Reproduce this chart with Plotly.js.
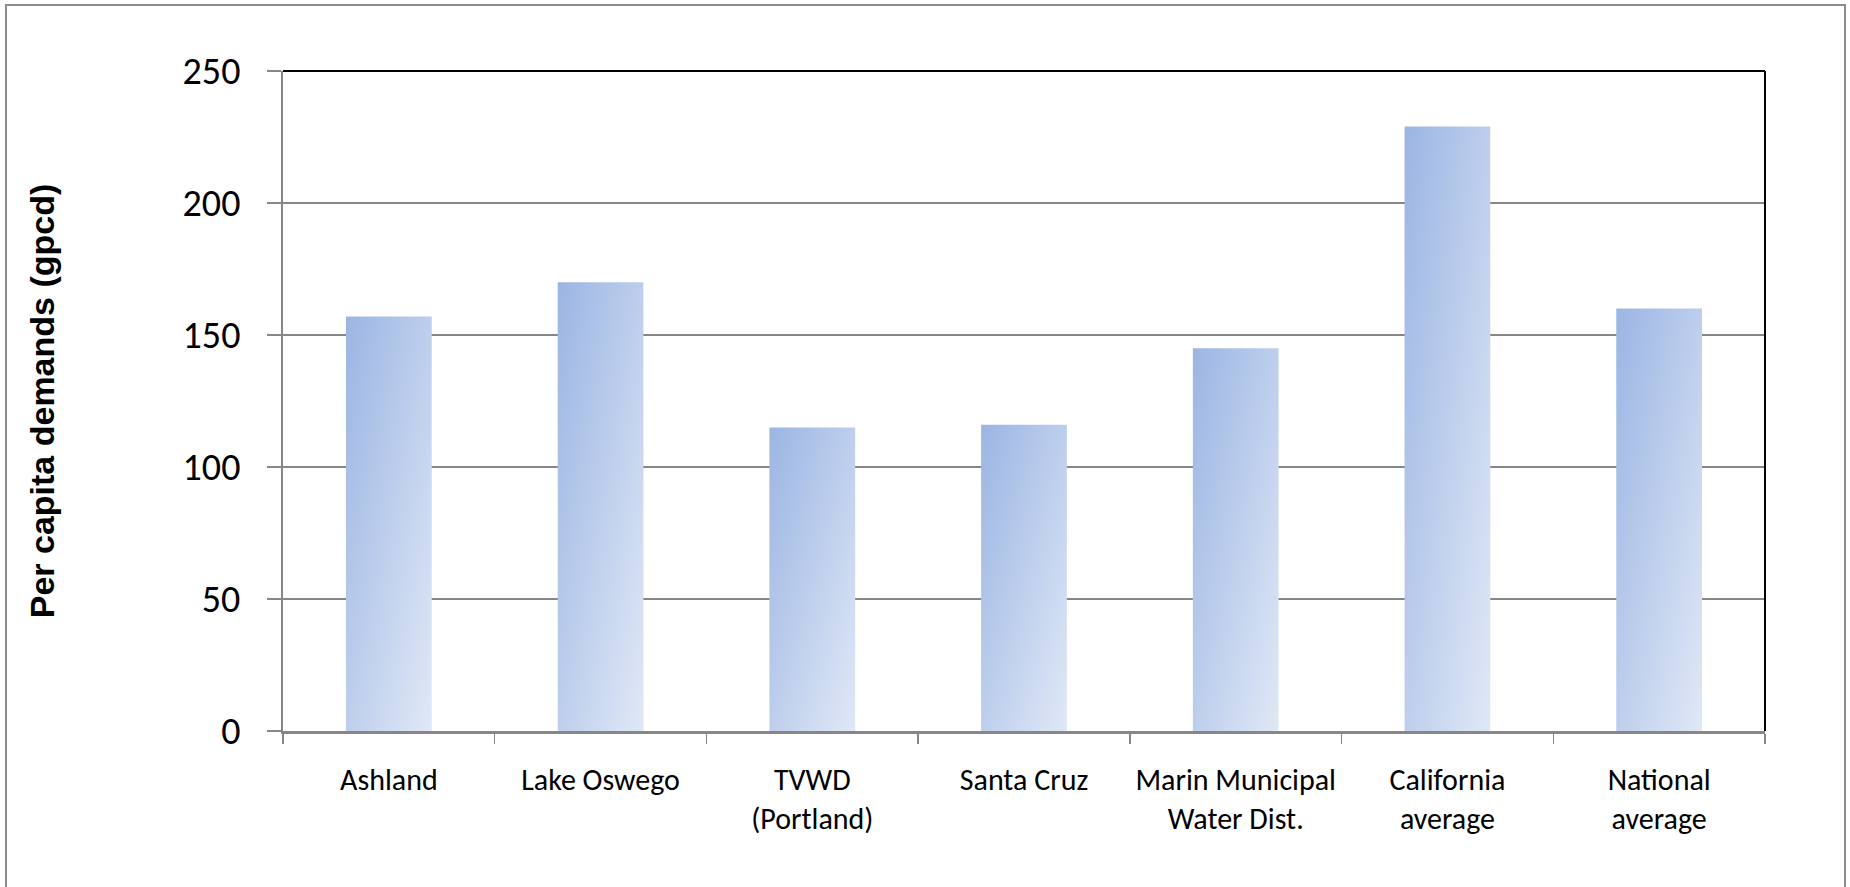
<!DOCTYPE html>
<html>
<head>
<meta charset="utf-8">
<script src="https://cdn.plot.ly/plotly-3.0.1.min.js"></script>
<style>
  html, body { margin: 0; padding: 0; background: #ffffff; }
  #wrap { position: relative; width: 1850px; height: 887px; overflow: hidden; }
  #chart { position: absolute; left: 0; top: 0; width: 1850px; height: 887px; }
  #frame {
    position: absolute; left: 5px; top: 4px; width: 1841px; height: 900px;
    border: 2px solid #8c8c8c; box-sizing: border-box; pointer-events: none;
  }
</style>
</head>
<body>
<div id="wrap">
  <div id="chart"></div>
  <div id="frame"></div>
</div>
<script>
// Residential per capita water demand, gallons per capita per day
const categories = [
  "Ashland",
  "Lake Oswego",
  "TVWD<br>(Portland)",
  "Santa Cruz",
  "Marin Municipal<br>Water Dist.",
  "California<br>average",
  "National<br>average"
];
const demandGpcd = [157, 170, 115, 116, 145, 229, 160];
const yTickValues = [0, 50, 100, 150, 200, 250];

const labelFont = "Carlito, Calibri, Lato, sans-serif";
const gridGray = "#878787";

const trace = {
  type: "bar",
  x: categories,
  y: demandGpcd,
  marker: { color: "#b6c8ea", line: { width: 0 } },
  hoverinfo: "x+y"
};

const layout = {
  width: 1850,
  height: 887,
  margin: { l: 283, r: 85, t: 71, b: 156 },
  paper_bgcolor: "#ffffff",
  plot_bgcolor: "#ffffff",
  showlegend: false,
  bargap: 0.595,
  xaxis: {
    type: "category",
    tickson: "boundaries",
    ticks: "outside",
    ticklen: 10,
    tickwidth: 1.5,
    tickcolor: gridGray,
    showline: true,
    linecolor: gridGray,
    linewidth: 3,
    showgrid: false,
    zeroline: false,
    ticklabelstandoff: 20,
    tickfont: { family: labelFont, size: 30, color: "#000000" },
    automargin: false,
    fixedrange: true
  },
  yaxis: {
    range: [0, 250],
    tickmode: "array",
    tickvals: yTickValues,
    ticktext: yTickValues.map(String),
    ticks: "outside",
    ticklen: 14,
    tickwidth: 2,
    tickcolor: gridGray,
    showline: true,
    linecolor: gridGray,
    linewidth: 2,
    showgrid: true,
    gridcolor: gridGray,
    gridwidth: 2,
    zeroline: false,
    ticklabelstandoff: 19,
    tickfont: { family: labelFont, size: 38, color: "#000000" },
    title: {
      text: "<b>Per capita demands (gpcd)</b>",
      font: { family: "Liberation Sans, Arial, sans-serif", size: 34, color: "#000000" },
      standoff: 118
    },
    automargin: false,
    fixedrange: true
  },
  shapes: [
    { type: "line", xref: "paper", yref: "paper", x0: 0, x1: 1, y0: 1, y1: 1,
      line: { color: "#000000", width: 2 } },
    { type: "line", xref: "paper", yref: "paper", x0: 1, x1: 1, y0: 0, y1: 1,
      line: { color: "#000000", width: 2 } }
  ]
};

// Soft diagonal gradient fill for each bar
function applyBarGradient(gd) {
  const ns = "http://www.w3.org/2000/svg";
  const svg = gd.querySelector("svg.main-svg");
  let defs = svg.querySelector("defs");
  if (!defs) { defs = document.createElementNS(ns, "defs"); svg.insertBefore(defs, svg.firstChild); }
  if (!svg.querySelector("#barFill")) {
    const grad = document.createElementNS(ns, "linearGradient");
    grad.setAttribute("id", "barFill");
    grad.setAttribute("x1", "0"); grad.setAttribute("y1", "0");
    grad.setAttribute("x2", "1"); grad.setAttribute("y2", "1");
    [["0", "#9bb5e3"], ["1", "#e0e8f6"]].forEach(([off, col]) => {
      const s = document.createElementNS(ns, "stop");
      s.setAttribute("offset", off);
      s.setAttribute("stop-color", col);
      grad.appendChild(s);
    });
    defs.appendChild(grad);
  }
  gd.querySelectorAll(".barlayer .point path").forEach(p => { p.style.fill = "url(#barFill)"; });
}

Plotly.newPlot("chart", [trace], layout, { displayModeBar: false, staticPlot: true })
  .then(applyBarGradient);
</script>
</body>
</html>
